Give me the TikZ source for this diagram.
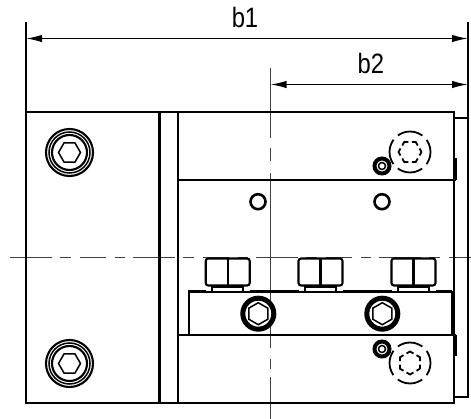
\documentclass[tikz,border=0pt]{standalone}
\usepackage{fontspec}
\setmainfont{Liberation Sans}
\usepackage{graphicx}
\usetikzlibrary{arrows.meta}
\tikzset{
  outline/.style={line width=2.1pt},
  thinline/.style={line width=1.5pt},
  dimline/.style={line width=1.5pt,{Latex[length=16pt,width=7.5pt]}-{Latex[length=16pt,width=7.5pt]}},
  centerh/.style={line width=1.1pt,black!75,dash pattern=on 42pt off 8pt on 11pt off 9pt on 26pt off 9pt on 10pt off 8pt},
  centerv/.style={line width=1.1pt,black!75,dash pattern=on 70pt off 10pt on 13pt off 12pt on 175pt off 11pt on 10pt off 8pt on 43pt},
  hiddencircle/.style={line width=1.8pt,dash pattern=on 26pt off 6.2pt,dash phase=13pt},
  hiddenhex/.style={line width=1.8pt,dash pattern=on 8pt off 3.5pt,dash phase=4pt},
  dimtext/.style={inner sep=0pt,font=\fontsize{28}{28}\selectfont},
}
\begin{document}
\begin{tikzpicture}[x=1pt,y=-1pt]
\useasboundingbox (0,0) rectangle (471,419);
\coordinate (leftext) at (26,22);
\coordinate (lefttop) at (26,112);
\coordinate (rightext) at (468,22);
\coordinate (righttop) at (468,118);
\coordinate (midext) at (270.5,68);
\coordinate (b1left) at (26,38.5);
\coordinate (b1right) at (468,38.5);
\coordinate (b2left) at (270.5,84.5);
\coordinate (b2right) at (468,84.5);
% Draw centre lines
\draw[centerh] (10,257.7) -- (471,257.7);
\draw[centerv] (midext) -- (270.5,419);
% Draw body
\draw[outline] (lefttop) -- (454,112) -- (454,403) -- (26,403) -- cycle;
\draw[outline] (454,118) -- (righttop) -- (468,397) -- (454,397);
\draw[outline] (159.5,112) -- (159.5,403);
\draw[outline] (178,112) -- (178,403);
\draw[outline] (178,180) -- (456,180);
\draw[outline] (178,335) -- (456,335);
\draw[thinline] (456,158) -- (456,180);
\draw[thinline] (456,335) -- (456,356);
% Draw clamp block
\draw[outline] (189,335) -- (189,291.5) -- (452,291.5);
\draw[line width=3pt] (452,291.5) -- (452,335);
% Draw extension lines and dimensions
\draw[thinline] (leftext) -- (lefttop);
\draw[thinline] (rightext) -- (righttop);
\draw[dimline] (b1left) -- (b1right) node[midway,above=10pt,xshift=-2pt,dimtext] (b1label) {\scalebox{0.85}[1]{b1}};
\draw[dimline] (b2left) -- (b2right) node[midway,above=9.5pt,xshift=1.5pt,dimtext] (b2label) {\scalebox{0.85}[1]{b2}};
% Draw socket screws on the left
\foreach \y in {152.5,363.5} {
  \coordinate (screw) at (69.5,\y);
  \draw[outline] (screw) circle [radius=23.5];
  \draw[thinline] (screw) circle [radius=20.5];
  \draw[outline] (screw) circle [radius=17.5];
  \draw[thinline] (screw) +(0:11) -- +(60:11) -- +(120:11) -- +(180:11) -- +(240:11) -- +(300:11) -- cycle;
}
% Draw clamp screws
\foreach \x in {258.3,382.3} {
  \coordinate (clamp) at (\x,313.7);
  \fill[white] (clamp) circle [radius=17];
  \draw[line width=5pt] (clamp) circle [radius=15.5];
  \draw[thinline] (clamp) +(30:11) -- +(90:11) -- +(150:11) -- +(210:11) -- +(270:11) -- +(330:11) -- cycle;
}
% Draw pins
\draw[line width=2.6pt] (258,201.7) circle [radius=7.5];
\draw[line width=2.6pt] (382,201.7) circle [radius=7.5];
\draw[line width=4pt] (382,166) circle [radius=7.5];
\draw[line width=1.5pt] (382,166) circle [radius=3.5];
\draw[line width=4pt] (382,349) circle [radius=7.5];
\draw[line width=1.5pt] (382,349) circle [radius=3.5];
% Draw hidden screws
\draw[hiddencircle] (410,152) circle [radius=20.5];
\draw[hiddenhex] (410,152) +(0:11.5) -- +(60:11.5) -- +(120:11.5) -- +(180:11.5) -- +(240:11.5) -- +(300:11.5) -- cycle;
\draw[hiddencircle] (410,363) circle [radius=20.5];
\draw[hiddenhex] (410,363) +(30:11.5) -- +(90:11.5) -- +(150:11.5) -- +(210:11.5) -- +(270:11.5) -- +(330:11.5) -- cycle;
% Draw nuts
\foreach \x in {227.7,320.5,413.5} {
  \fill[white] (\x-22,259) rectangle (\x+22,291);
  \draw[outline,rounded corners=2.5pt] (\x-22,258.5) rectangle (\x+22,285.5);
  \draw[outline] (\x,259) -- (\x,285);
  \draw[outline] (\x-15.5,286) -- (\x-15.5,291);
  \draw[outline] (\x+15.5,286) -- (\x+15.5,291);
  \draw[outline] (\x-15.5,287) -- (\x+15.5,287);
}
\end{tikzpicture}
\end{document}
